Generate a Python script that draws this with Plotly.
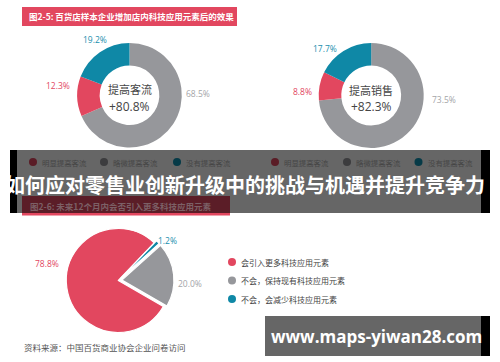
import plotly.graph_objects as go

# ---------------- data ----------------
title_top = "图2-5: 百货店样本企业增加店内科技应用元素后的效果"
title_bottom = "图2-6: 未来12个月内会否引入更多科技应用元素"
banner_text = "如何应对零售业创新升级中的挑战与机遇并提升竞争力"
watermark = "www.maps-yiwan28.com"
source_note = "资料来源：中国百货商业协会企业问卷访问"

donut_labels = ["明显提高客流", "略微提高客流", "没有提高客流"]
donut1_values = [12.3, 68.5, 19.2]   # 提高客流
donut2_values = [8.8, 73.5, 17.7]    # 提高销售
donut1_center = "提高客流"
donut2_center = "提高销售"

pie_labels = ["会引入更多科技应用元素", "不会，保持现有科技应用元素", "不会，会减少科技应用元素"]
pie_values = [78.8, 20.0, 1.2]

RED, GRAY, TEAL = "#e2475f", "#96979b", "#0f88a6"
colors = [RED, GRAY, TEAL]
LABEL_COLORS = [RED, "#a4a5a8", "#1b8fae"]

W, H = 500, 362
CJK = "Noto Sans CJK SC"
NUM = "Open Sans"


def px(x0, x1):
    return [x0 / W, x1 / W]


def py(y0, y1):  # y in pixels from top
    return [1 - y1 / H, 1 - y0 / H]


fig = go.Figure()

# order clockwise from 12 o'clock: gray, red, teal
order = [1, 0, 2]


def add_donut(values, cx, cy, r):
    fig.add_trace(go.Pie(
        labels=[donut_labels[i] for i in order],
        values=[values[i] for i in order],
        marker=dict(colors=[colors[i] for i in order], line=dict(color="white", width=0)),
        hole=0.57, sort=False, direction="clockwise", rotation=0,
        textinfo="none", hoverinfo="label+percent", showlegend=False,
        domain=dict(x=px(cx - r, cx + r), y=py(cy - r, cy + r)),
    ))


add_donut(donut1_values, 129.5, 95.2, 52.3)
add_donut(donut2_values, 371.2, 95.5, 52.5)

# bottom pie (counterclockwise: first slice spans clockwise from `rotation`)
pull = [0, 0.07, 0.06]
rp = 52 * 1.07
fig.add_trace(go.Pie(
    labels=pie_labels, values=pie_values,
    marker=dict(colors=colors, line=dict(color="white", width=1.2)),
    pull=pull, sort=False, direction="counterclockwise", rotation=120,
    textinfo="none", hoverinfo="label+percent", showlegend=False,
    domain=dict(x=px(118.3 - rp, 118.3 + rp), y=py(280.5 - rp, 280.5 + rp)),
))

shapes = []
annotations = []


def rect(x0, y0, x1, y1, color):
    shapes.append(dict(type="rect", xref="paper", yref="paper",
                       x0=x0 / W, x1=x1 / W, y0=1 - y1 / H, y1=1 - y0 / H,
                       fillcolor=color, line=dict(width=0), layer="above"))


def dot(x, y, r, color):
    shapes.append(dict(type="circle", xref="paper", yref="paper",
                       x0=(x - r) / W, x1=(x + r) / W, y0=1 - (y + r) / H, y1=1 - (y - r) / H,
                       fillcolor=color, line=dict(width=0), layer="above"))


def text(x, y, s, size, color, anchor="left", family=CJK, bold=False):
    if bold:
        s = "<b>" + s + "</b>"
    annotations.append(dict(x=x / W, y=1 - y / H, xref="paper", yref="paper",
                            text=s, showarrow=False, xanchor=anchor, yanchor="middle",
                            font=dict(size=size, color=color, family=family)))


# top title bar
rect(22, 7, 237, 26, RED)
text(27, 16.5, title_top, 8.5, "white", bold=True)

# donut centre texts
for (cx, cy), vals, name in [((129.5, 95.2), donut1_values, donut1_center),
                              ((371.2, 95.5), donut2_values, donut2_center)]:
    text(cx, cy - 6, name, 11, "#444444", anchor="center")
    text(cx, cy + 11, "+%.1f%%" % (vals[0] + vals[1]), 12, "#444444", anchor="center", family=NUM)

# donut percentage labels
lab1 = [(58, 85), (198, 93.5), (95, 39)]
lab2 = [(302, 91.5), (444, 100), (325, 48)]
for vals, pos in [(donut1_values, lab1), (donut2_values, lab2)]:
    for i, v in enumerate(vals):
        text(pos[i][0], pos[i][1], "%.1f%%" % v, 8.5, LABEL_COLORS[i], anchor="center", family=NUM)

# bottom pie percentage labels
lab3 = [(47, 263.5), (190, 283.5), (167, 240)]
for i, v in enumerate(pie_values):
    text(lab3[i][0], lab3[i][1], "%.1f%%" % v, 8.5, LABEL_COLORS[i], anchor="center", family=NUM)

# bottom legend
for i, lab in enumerate(pie_labels):
    y = 262 + i * 18.5
    dot(232, y, 4, colors[i])
    text(239, y, lab, 8, "#444444")

# source note
text(22, 347, source_note, 8.5, "#555555")

# ---------- dark banner overlay (pre-blended colours) ----------
rect(10, 150, 17, 213, "#000000")
rect(481, 150, 490, 213, "#000000")
rect(17, 150, 481, 213, "#666666")
# darkened legend under the banner
dark_colors = ["#5a1c26", "#3c3c3e", "#063a47"]
for xs in [(33, 104, 177), (275, 347, 418.5)]:
    for i, x in enumerate(xs):
        dot(x, 162, 4, dark_colors[i])
        text(x + 7, 162, donut_labels[i], 7.4, "#454545")
# darkened second title bar
rect(22, 196, 230, 213, "#5b1d27")
rect(22, 213, 230, 215.5, RED)
text(28, 206, title_bottom, 8.5, "#7c6066", bold=True)
# banner headline
text(245, 184, banner_text, 20, "white", anchor="center", bold=True)

# watermark box
rect(265, 316, 481, 356, "#666666")
rect(481, 316, 490, 356, "#000000")
text(376, 336.5, watermark, 17, "white", anchor="center", family="Open Sans", bold=True)

fig.update_layout(
    width=W, height=H, margin=dict(l=0, r=0, t=0, b=0),
    paper_bgcolor="white", plot_bgcolor="white",
    shapes=shapes, annotations=annotations, showlegend=False,
)

fig.write_html("out.html", config={"displayModeBar": False})

# remove the browser's default body margin so the figure sits at (0, 0)
with open("out.html", "r", encoding="utf-8") as f:
    html = f.read()
html = html.replace("<head>", "<head><style>html,body{margin:0;padding:0;overflow:hidden;}</style>", 1)
with open("out.html", "w", encoding="utf-8") as f:
    f.write(html)
